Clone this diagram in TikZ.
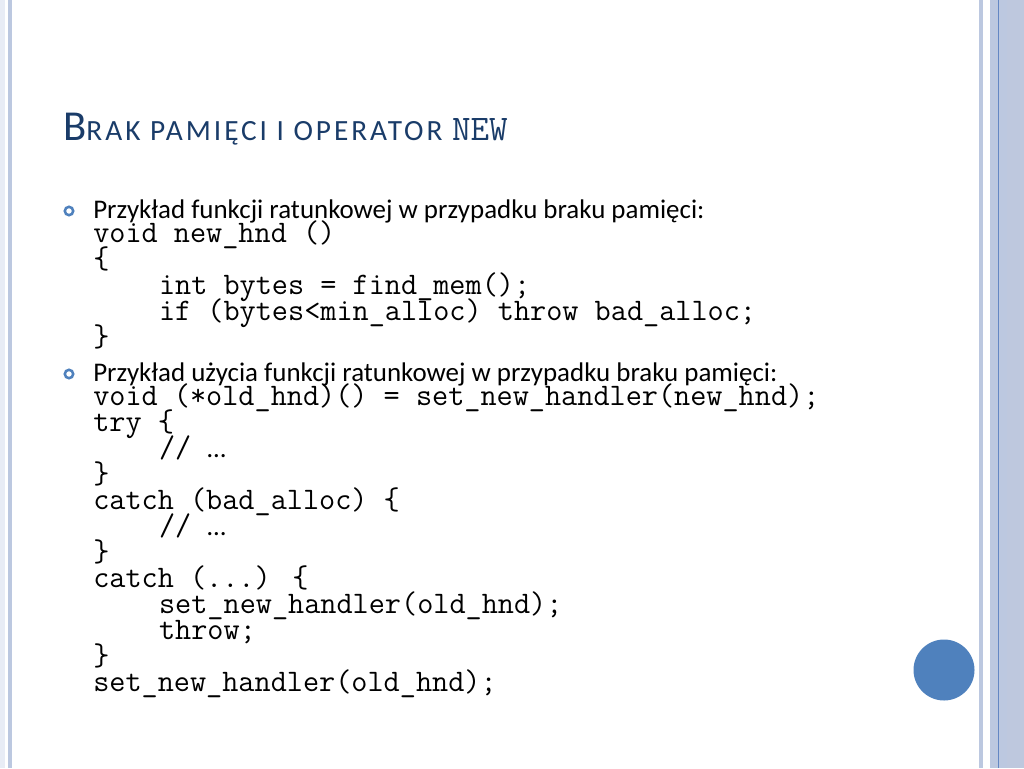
\documentclass[tikz,border=0pt]{standalone}
\usepackage{fontspec}
\setmainfont{Carlito}
\definecolor{band}{RGB}{188,200,224}
\definecolor{bandpale}{RGB}{232,236,245}
\definecolor{bandgrey}{RGB}{190,200,222}
\definecolor{bandline}{RGB}{100,135,195}
\definecolor{accent}{RGB}{79,129,189}
\definecolor{titleblue}{RGB}{26,60,105}
\setlength{\lineskiplimit}{-100pt}
\newcommand{\ind}{\hspace*{2.1em}}
\newcommand{\ellip}{{\rmfamily\fontsize{20}{19.5}\selectfont …}}
\begin{document}
\begin{tikzpicture}[x=0.75pt,y=-0.75pt]
\tikzstyle{every node}+=[inner sep=0pt]
\tikzstyle{codeblock}=[anchor=base west,align=left,
  font=\fontsize{23.5}{19.5}\selectfont\ttfamily]
\tikzstyle{leadline}=[anchor=base west,
  font=\fontsize{20.2}{19.5}\selectfont]
\tikzstyle{ring}=[draw=accent,line width=1.9pt]
\useasboundingbox (0,0) rectangle (1024,768);
% borders
\fill [bandpale] (0,0) rectangle (5,768);
\fill [band] (7.5,0) rectangle (12,768);
\fill [band] (979,0) rectangle (983,768);
\fill [band] (990,0) rectangle (1007,768);
\fill [bandgrey] (1007,0) rectangle (1024,768);
\draw [bandline,line width=1pt] (998.5,0) -- (998.5,768);
\fill [accent] (944,670) circle (30.5);
% title
\node (title) [anchor=base west,text=titleblue] at (63,140)
  {\fontsize{32}{36}\selectfont B\fontsize{22}{24}\selectfont\addfontfeature{LetterSpace=10}RAK PAMIĘCI I OPERATOR
   {\ttfamily\fontsize{27}{28}\selectfont\addfontfeature{LetterSpace=8}NEW}};
% bullets (base anchor of a code block = its last line)
\draw [ring] (69,211) circle (4.2);
\draw [ring] (69,374) circle (4.2);
\node (lead1) [leadline] at (93,218) {Przykład funkcji ratunkowej w przypadku braku pamięci:};
\node (code1) [codeblock] at (93,346)
  {void new\_hnd ()\\
   \{\\
   \ind int bytes = find\_mem();\\
   \ind if (bytes<min\_alloc) throw bad\_alloc;\\
   \}};
\node (lead2) [leadline] at (93,381) {Przykład użycia funkcji ratunkowej w przypadku braku pamięci:};
\node (code2) [codeblock] at (93,691)
  {void (*old\_hnd)() = set\_new\_handler(new\_hnd);\\
   try \{\\
   \ind // \ellip\\
   \}\\
   catch (bad\_alloc) \{\\
   \ind // \ellip\\
   \}\\
   catch (...) \{\\
   \ind set\_new\_handler(old\_hnd);\\
   \ind throw;\\
   \}\\
   set\_new\_handler(old\_hnd);};
\end{tikzpicture}
\end{document}
